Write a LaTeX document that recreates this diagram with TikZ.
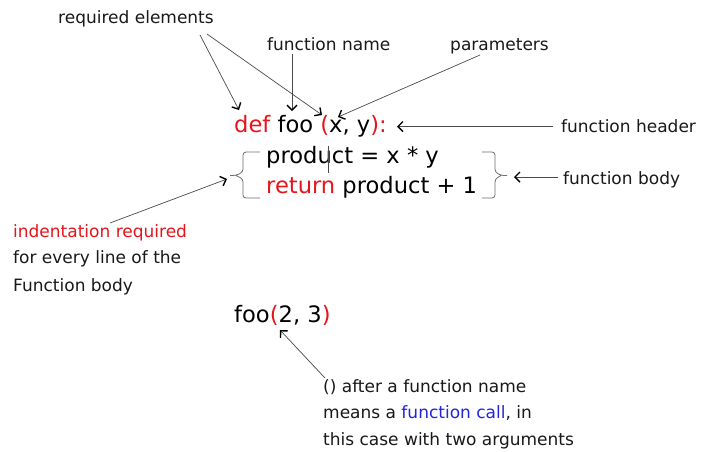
\documentclass[tikz,border=0pt]{standalone}
\usepackage{fontspec}
\setmainfont{DejaVu Sans}
\usetikzlibrary{arrows.meta}
\definecolor{kwred}{HTML}{E8141C}
\definecolor{callblue}{HTML}{2424E0}
\definecolor{lngray}{HTML}{4A4A4A}
\tikzset{
  lbl/.style={anchor=base west, inner sep=0pt, text=black!90, font=\fontsize{17}{20}\selectfont},
  code/.style={anchor=base west, inner sep=0pt, font=\fontsize{22.6}{28}\selectfont},
  pointer/.style={draw=lngray, line width=0.7pt, -{Straight Barb[length=5pt,width=10pt,line width=1.4pt,color=black]}},
  bracepath/.style={draw=lngray!80, line width=0.8pt, rounded corners=3pt},
}
\begin{document}
\begin{tikzpicture}[x=1pt,y=-1pt]
\useasboundingbox[fill=white] (0,0) rectangle (701,451);

% labels
\node[lbl] (req) at (58,23) {required elements};
\node[lbl] (fname) at (267,50) {function name};
\node[lbl] (params) at (450,50) {parameters};
\node[lbl] (fheader) at (561,132) {function header};
\node[lbl] (fbody) at (563,184) {function body};
\node[lbl,text=kwred] (ind1) at (13,237) {indentation required};
\node[lbl] (ind2) at (13,263) {for every line of the};
\node[lbl] (ind3) at (13,291) {Function body};
\node[lbl] (call1) at (323,392) {() after a function name};
\node[lbl] (call2) at (323,418) {means a \textcolor{callblue}{function call}, in};
\node[lbl] (call3) at (323,445) {this case with two arguments};

% code
\node[code] (hdr) at (234,132) {\textcolor{kwred}{def} foo \textcolor{kwred}{(}x, y\textcolor{kwred}{):}};
\node[code] (ln2) at (266,163) {product = x * y};
\node[code] (ln3) at (266,193) {\textcolor{kwred}{return} product + 1};
\node[code] (callc) at (234,322) {foo\textcolor{kwred}{(}2, 3\textcolor{kwred}{)}};

% text cursor
\draw[lngray, line width=0.7pt] (328,146) -- (328,173);

% braces
\draw[bracepath] (260,152) -- (243,152) -- (243,172) -- (236,175.5) [sharp corners] -- (230,175.5)
  (236,175.5) [rounded corners=3pt] -- (243,179) -- (243,198) -- (260,198);
\draw[bracepath] (482,152) -- (495,152) -- (495,172) -- (501,175.5) [sharp corners] -- (507,175.5)
  (501,175.5) [rounded corners=3pt] -- (495,179) -- (495,198) -- (482,198);

% arrow endpoints
\coordinate (reqA) at (200,35);
\coordinate (reqB) at (207,34);
\coordinate (defTip) at (239,110);
\coordinate (parTip) at (322,115);
\coordinate (fnA) at (292,54);
\coordinate (fnTip) at (292,111);
\coordinate (parA) at (480,55);
\coordinate (xTip) at (338,117);
\coordinate (hdrA) at (553,126.5);
\coordinate (hdrTip) at (397,126.5);
\coordinate (bodyA) at (558,177);
\coordinate (bodyTip) at (514,177);
\coordinate (indA) at (110,223);
\coordinate (indTip) at (227,179);
\coordinate (callA) at (325,378);
\coordinate (callTip) at (280,330);

\draw[pointer] (reqA) -- (defTip);
\draw[pointer] (reqB) -- (parTip);
\draw[pointer] (fnA) -- (fnTip);
\draw[pointer] (parA) -- (xTip);
\draw[pointer] (hdrA) -- (hdrTip);
\draw[pointer] (bodyA) -- (bodyTip);
\draw[pointer] (indA) -- (indTip);
\draw[pointer] (callA) -- (callTip);
\end{tikzpicture}
\end{document}
